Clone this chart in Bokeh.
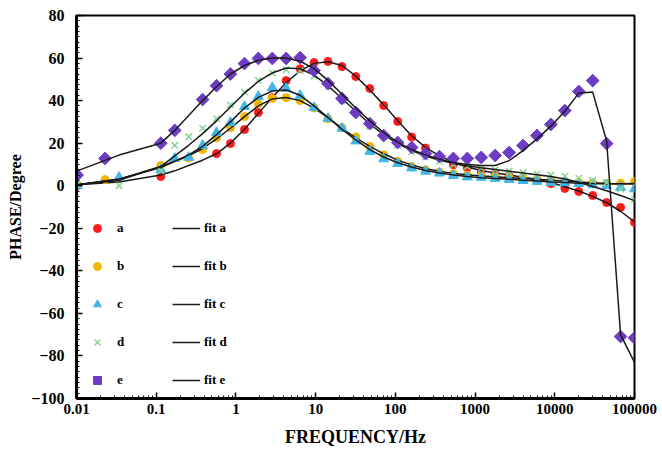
from bokeh.plotting import figure
from bokeh.models import (Legend, LegendItem, FixedTicker, Range1d, ColumnDataSource,
                          SingleIntervalTicker, CustomJSTickFormatter)
from bokeh.embed import file_html
from bokeh.resources import INLINE

# ---------------- data ----------------
x_ticks = [0.01, 0.1, 1, 10, 100, 1000, 10000, 100000]
y_ticks = [-100, -80, -60, -40, -20, 0, 20, 40, 60, 80]

f_a = [0.0102, 0.1142, 0.571, 0.854, 1.28, 1.91, 2.86, 4.27, 6.39, 9.55, 14.3, 21.4,
       31.9, 47.8, 71.4, 107, 160, 239, 357, 534, 799, 1195, 1787, 2673, 3997, 5977,
       8939, 13368, 19992, 29898, 44712, 66867, 100000]
phase_a = [0, 4.3, 15.1, 19.8, 26.4, 34.4, 41.4, 49.4, 55, 57.9, 58.4, 56, 51.3, 45.7,
           37.7, 30.2, 22.9, 17.7, 13.7, 9.8, 8.4, 6.5, 5.6, 4.6, 3.6, 2.6, 1.0, -1.3,
           -2.7, -4.6, -7.9, -10.2, -17.3]

f_b = [0.0102, 0.0228, 0.1142, 0.2555, 0.382, 0.571, 0.854, 1.28, 1.91, 2.86, 4.27,
       6.39, 9.55, 14.3, 21.4, 31.9, 47.8, 71.4, 107, 160, 239, 357, 534, 799, 1195,
       1787, 2673, 3997, 5977, 8939, 13368, 19992, 29898, 44712, 66867, 100000]
phase_b = [0.5, 2.9, 9.5, 13.0, 17.0, 22.4, 27.3, 32.5, 38.5, 41.0, 41.4, 40.0, 36.5,
           31.5, 27.3, 23.0, 18.5, 14.5, 11.5, 9.0, 7.5, 6.4, 5.6, 5.0, 4.6, 4.2, 3.8,
           3.4, 3.0, 2.6, 2.2, 1.6, 1.3, 1.1, 1.2, 2.0]

f_c = [0.0102, 0.0342, 0.1142, 0.1708, 0.2555, 0.382, 0.571, 0.854, 1.28, 1.91, 2.86,
       4.27, 6.39, 9.55, 14.3, 21.4, 31.9, 47.8, 71.4, 107, 160, 239, 357, 534, 799,
       1195, 1787, 2673, 3997, 5977, 8939, 13368, 19992, 29898, 44712, 66867, 100000]
phase_c = [0, 3.9, 7.5, 12.8, 13.3, 18.9, 25.0, 29.7, 37.2, 41.9, 46.1, 45.7, 42.4,
           36.7, 31.6, 27.0, 21.0, 16.1, 12.6, 10.4, 8.3, 6.8, 5.9, 4.8, 4.1, 3.9, 3.4,
           2.9, 2.4, 2.0, 1.5, 1.4, 1.0, 0.6, 0.1, -0.8, -1.5]

f_d = f_c
phase_d = [0.5, 0.0, 7.0, 19.0, 23.0, 27.0, 31.5, 38.0, 44.0, 49.5, 53.0, 54.5, 54.0,
           51.5, 46.5, 40.0, 34.0, 28.0, 23.0, 19.0, 16.0, 13.5, 11.5, 10.0, 9.0, 8.2,
           7.5, 6.8, 6.2, 5.5, 5.0, 4.5, 3.5, 2.5, 1.5, -1.5, -6.5]

f_e = [0.0102, 0.0228, 0.1142, 0.1708, 0.382, 0.571, 0.854, 1.28, 1.91, 2.86, 4.27,
       6.39, 9.55, 14.3, 21.4, 31.9, 47.8, 71.4, 107, 160, 239, 357, 534, 799, 1195,
       1787, 2673, 3997, 5977, 8939, 13368, 19992, 29898, 44712, 66867, 100000]
phase_e = [5.0, 12.8, 20.0, 26.0, 40.5, 47.0, 52.5, 57.4, 59.8, 59.8, 59.8, 60.2, 54.1,
           48.0, 41.0, 34.4, 29.2, 23.6, 20.3, 18.0, 15.1, 13.7, 12.8, 12.8, 13.3, 14.2,
           15.6, 18.9, 23.6, 28.8, 35.3, 44.3, 49.4, 19.8, -70.9, -71.5]

# fitted curves (shared frequency list)
f_fit = [0.0102, 0.0342, 0.1142, 0.1708, 0.2555, 0.382, 0.571, 0.854, 1.28, 1.91, 2.86,
         4.27, 6.39, 9.55, 14.3, 21.4, 31.9, 47.8, 71.4, 107, 160, 239, 357, 534, 799,
         1195, 1787, 2673, 3997, 5977, 8939, 13368, 19992, 29898, 44712, 66867, 100000]
fit_a = [0.5, 1.8, 5.0, 7.0, 9.5, 12.0, 15.0, 20.0, 26.5, 34.0, 41.5, 48.5, 54.0, 57.5,
         58.3, 56.5, 51.5, 45.0, 38.0, 30.5, 23.5, 18.0, 14.0, 11.0, 8.8, 7.2, 6.0, 5.0,
         4.0, 3.0, 1.5, -0.5, -2.5, -5.0, -8.0, -12.0, -17.0]
fit_b = [0.5, 3.0, 9.0, 11.5, 14.0, 17.5, 22.0, 27.0, 32.5, 37.5, 40.8, 41.5, 40.0,
         36.5, 32.0, 27.0, 22.5, 18.5, 15.0, 12.0, 9.8, 8.0, 6.8, 5.8, 5.1, 4.6, 4.2,
         3.8, 3.4, 3.0, 2.6, 2.2, 1.8, 1.4, 1.1, 0.9, 0.8]
fit_c = [0.5, 3.2, 8.5, 11.5, 14.5, 18.5, 24.0, 30.0, 36.5, 41.5, 44.5, 45.0, 42.5,
         37.5, 32.0, 26.5, 21.5, 17.0, 13.5, 10.8, 8.8, 7.2, 6.0, 5.0, 4.3, 3.8, 3.4,
         3.0, 2.6, 2.2, 1.8, 1.5, 1.2, 1.0, 0.8, 0.9, 1.0]
fit_d = [0.5, 2.5, 9.0, 14.0, 19.0, 24.5, 30.5, 37.0, 43.5, 49.0, 53.0, 55.3, 55.0,
         52.0, 47.0, 41.0, 35.0, 29.0, 24.0, 19.8, 16.5, 14.0, 12.0, 10.5, 9.3, 8.4,
         7.6, 6.8, 6.0, 5.2, 4.3, 3.2, 1.6, -0.4, -2.4, -4.6, -7.0]
fit_e = [7.0, 14.4, 20.0, 26.0, 33.0, 40.0, 46.5, 52.5, 56.5, 59.0, 60.0, 60.0, 58.5,
         55.0, 49.5, 43.0, 36.5, 30.5, 25.0, 20.5, 17.0, 14.5, 12.5, 10.9, 10.0, 9.5,
         9.5, 11.8, 16.5, 22.0, 28.0, 35.0, 43.5, 44.0, 21.0, -70.0, -83.0]

# ---------------- figure ----------------
FONT = "Liberation Serif"
p = figure(frame_width=558, frame_height=383, x_axis_type="log",
           x_range=Range1d(0.01, 100000), y_range=Range1d(-100, 80),
           output_backend="svg", toolbar_location=None,
           min_border_left=76, min_border_right=28, min_border_top=15,
           min_border_bottom=56)
p.xgrid.visible = False
p.ygrid.visible = False
p.outline_line_color = "black"
p.outline_line_width = 2
p.background_fill_color = "white"

minor_x = [k * 10.0 ** e for e in range(-2, 5) for k in range(2, 10)]
p.xaxis.ticker = FixedTicker(ticks=x_ticks, minor_ticks=minor_x)
p.xaxis.formatter = CustomJSTickFormatter(code="return tick.toString();")
p.yaxis.ticker = SingleIntervalTicker(interval=20, num_minor_ticks=8)

for ax in (p.xaxis[0], p.yaxis[0]):
    ax.axis_line_width = 3
    ax.axis_line_color = "black"
    ax.major_tick_in = 6
    ax.major_tick_out = 0
    ax.minor_tick_in = 3
    ax.minor_tick_out = 0
    ax.major_tick_line_width = 1.5
    ax.minor_tick_line_width = 1
    ax.major_label_text_font = FONT
    ax.major_label_text_font_style = "bold"
    ax.major_label_text_color = "black"
    ax.axis_label_text_font = FONT
    ax.axis_label_text_font_style = "bold"
    ax.axis_label_text_color = "black"

p.xaxis.major_label_text_font_size = "15px"
p.yaxis.major_label_text_font_size = "16px"
p.xaxis.axis_label_text_font_size = "18px"
p.yaxis.axis_label_text_font_size = "16px"
p.xaxis.axis_label = "FREQUENCY/Hz"
p.yaxis.axis_label = "PHASE/Degree"
p.xaxis.major_label_standoff = 5
p.xaxis.axis_label_standoff = 10
p.yaxis.major_label_standoff = 12
p.yaxis.axis_label_standoff = 4

LINE = "#1a1a1a"
src_e = ColumnDataSource(dict(f=f_e, ph=phase_e, ang=[45.0] * len(f_e)))

ra = p.scatter(f_a, phase_a, marker="circle", size=8, color="#ff1a1a")
la = p.line(f_fit, fit_a, line_color=LINE, line_width=1.5)
rb = p.scatter(f_b, phase_b, marker="circle", size=8, color="#f2b700")
lb = p.line(f_fit, fit_b, line_color=LINE, line_width=1.5)
rc = p.scatter(f_c, phase_c, marker="triangle", size=10, color="#41b6e6")
lc = p.line(f_fit, fit_c, line_color=LINE, line_width=1.5)
rd = p.scatter(f_d, phase_d, marker="x", size=9, line_color="#86d49a", line_width=1.5)
ld = p.line(f_fit, fit_d, line_color=LINE, line_width=1.5)
re = p.scatter("f", "ph", source=src_e, marker="square", angle="ang", angle_units="deg",
               size=9, color="#6c3cc4")
le = p.line(f_fit, fit_e, line_color=LINE, line_width=1.5)


def make_legend(items, loc, gw, standoff):
    lg = Legend(items=items, location=loc)
    lg.border_line_color = None
    lg.background_fill_alpha = 0
    lg.padding = 0
    lg.margin = 0
    lg.spacing = 18
    lg.label_height = 20
    lg.glyph_height = 20
    lg.glyph_width = gw
    lg.label_standoff = standoff
    lg.label_text_font = FONT
    lg.label_text_font_style = "bold"
    lg.label_text_font_size = "13px"
    lg.label_text_color = "black"
    return lg


marker_items = [LegendItem(label="a", renderers=[ra]),
                LegendItem(label="b", renderers=[rb]),
                LegendItem(label="c", renderers=[rc]),
                LegendItem(label="d", renderers=[rd]),
                LegendItem(label="e", renderers=[re], index=0)]
leg1 = make_legend(marker_items, (11, 8), 20, 10)
leg2 = make_legend([LegendItem(label=n, renderers=[r]) for n, r in
                    zip(["fit a", "fit b", "fit c", "fit d", "fit e"], [la, lb, lc, ld, le])],
                   (96, 8), 28, 4)
p.add_layout(leg1)
p.add_layout(leg2)

open("out.html", "w").write(file_html(p, INLINE))
